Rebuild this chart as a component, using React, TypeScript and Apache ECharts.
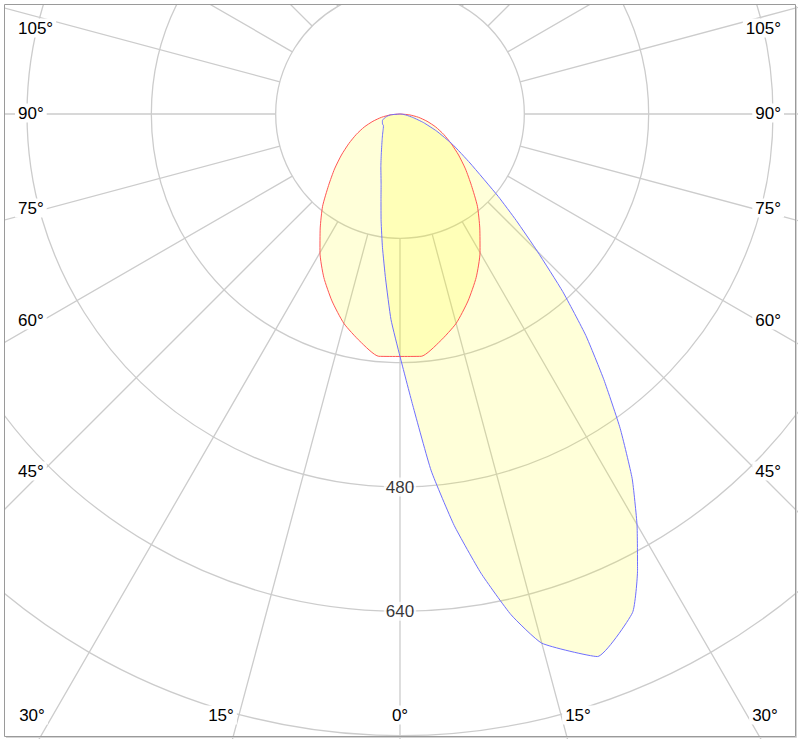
import React, { useEffect, useRef } from 'react';
import * as echarts from 'echarts';

// ---- data ----
const ringValues = [160, 320, 480, 640, 800, 960];
const radiusLabelValues = [480, 640];

// C0-C180 plane (red), angle in degrees (0 = nadir, + = right), intensity cd
const redAngles = [-90, -85, -80, -75, -70, -65, -60, -55, -50, -45, -40, -35, -30, -25, -20, -15, -10, -5, 0, 5, 10, 15, 20, 25, 30, 35, 40, 45, 50, 55, 60, 65, 70, 75, 80, 85, 90];
const redValues = [0, 12, 24, 36, 49, 62, 76, 92, 110, 130, 155, 179, 206, 232, 256, 279, 297, 313, 312, 313, 297, 279, 256, 232, 206, 179, 155, 130, 110, 92, 76, 62, 49, 36, 24, 12, 0];

// C90-C270 plane (blue)
const blueAngles = [-90, -85, -80, -75, -70, -65, -60, -55, -50, -45, -40, -35, -30, -25, -20, -15, -12.5, -10, -7.5, -5, -2.5, 0, 2.5, 5, 7.5, 10, 12.5, 15, 20, 25, 27.5, 30, 32.5, 35, 37.5, 40, 42.5, 45, 47.5, 50, 55, 60, 65, 70, 75, 80, 85, 90];
const blueValues = [0, 12, 17, 21, 24, 25, 26, 26, 28, 31, 35, 40, 47, 57, 72, 94, 113, 140, 173, 213, 265, 312, 375, 461, 534, 600, 660, 705, 743, 708, 662, 610, 556, 494, 431, 372, 310, 250, 203, 165, 110, 78, 52, 32, 17, 8, 3, 0];

const leftAngleLabels = ['105°', '90°', '75°', '60°', '45°'];
const bottomAngleLabels = ['30°', '15°', '0°', '15°', '30°'];

// ---- layout ----
const CX = 396;
const CY = 110;
const R_MAX = 960;
const R_OUT = 746;
const R_IN = (R_OUT * ringValues[0]) / R_MAX;
const FONT_FAMILY = 'Liberation Sans, Arial, sans-serif';
const FONT_SIZE = 17;
const GRID = '#cccccc';

const sideY = [24, 109, 204, 316, 467];
const bottomX = [28, 217, 396, 574, 761];

export default function App() {
  const ref = useRef<HTMLDivElement>(null);

  useEffect(() => {
    document.body.style.margin = '0';
    if (!ref.current) return;
    const chart = echarts.init(ref.current, undefined, { renderer: 'svg' });

    const textStyle = (t: string, align: string) => ({
      text: t, fontSize: FONT_SIZE, fontFamily: FONT_FAMILY, fill: '#000',
      align, verticalAlign: 'middle', backgroundColor: '#fff', padding: [1, 3],
    });
    const texts: any[] = [];
    leftAngleLabels.forEach((t, i) => {
      texts.push({ type: 'text', z: 100, x: 11, y: sideY[i], style: textStyle(t, 'left') });
      texts.push({ type: 'text', z: 100, x: 780, y: sideY[i], style: textStyle(t, 'right') });
    });
    bottomAngleLabels.forEach((t, i) => {
      texts.push({ type: 'text', z: 100, x: bottomX[i], y: 711, style: textStyle(t, 'center') });
    });

    const option: any = {
      animation: false,
      backgroundColor: '#fff',
      polar: [
        { center: [CX, CY], radius: [R_IN, R_OUT] },
        { center: [CX, CY], radius: [0, R_OUT] },
      ],
      angleAxis: [
        {
          polarIndex: 0, type: 'value', min: -180, max: 180, interval: 15,
          startAngle: 90, clockwise: false,
          axisLine: { show: false }, axisTick: { show: false }, axisLabel: { show: false },
          splitLine: { show: true, lineStyle: { color: GRID, width: 1.3 } },
        },
        {
          polarIndex: 1, type: 'value', min: -180, max: 180, interval: 15,
          startAngle: 90, clockwise: false, show: false,
        },
      ],
      radiusAxis: [
        {
          polarIndex: 0, type: 'value', min: ringValues[0], max: R_MAX, interval: 160,
          axisLine: { show: false }, axisTick: { show: false }, axisLabel: { show: false },
          splitLine: { show: true, lineStyle: { color: GRID, width: 1.3 } },
        },
        { polarIndex: 1, type: 'value', min: 0, max: R_MAX, show: false },
      ],
      series: [
        {
          type: 'line', coordinateSystem: 'polar', polarIndex: 1,
          data: redAngles.map((a, i) => [redValues[i], a]),
          symbol: 'none', smooth: 0.2, z: 3,
          lineStyle: { color: '#ff5555', width: 1 },
          areaStyle: { color: 'rgba(255,255,0,0.15)', opacity: 1 },
        },
        {
          type: 'line', coordinateSystem: 'polar', polarIndex: 1,
          data: blueAngles.map((a, i) => [blueValues[i], a]),
          symbol: 'none', smooth: 0.15, z: 3,
          lineStyle: { color: '#6f6fff', width: 1 },
          areaStyle: { color: 'rgba(255,255,0,0.15)', opacity: 1 },
        },
        {
          type: 'scatter', coordinateSystem: 'polar', polarIndex: 1, silent: true, z: 5,
          data: radiusLabelValues.map((v) => [v, 0]),
          symbolSize: 1, itemStyle: { color: 'rgba(0,0,0,0)' },
          label: {
            show: true, position: 'inside',
            formatter: (p: any) => String(p.value[0]),
            color: '#000', fontSize: FONT_SIZE, fontFamily: FONT_FAMILY,
            backgroundColor: '#fff', padding: [1, 2],
          },
        },
      ],
      graphic: [
        {
          type: 'rect', z: 101, silent: true,
          shape: { x: 0.5, y: 0.5, width: 791, height: 732 },
          style: { fill: 'none', stroke: '#9a9a9a', lineWidth: 1 },
        },
        {
          type: 'polyline', z: 101, silent: true,
          shape: { points: [[792.5, 2], [792.5, 733.5], [2, 733.5]] },
          style: { fill: 'none', stroke: '#d4d4d4', lineWidth: 1 },
        },
        ...texts,
      ],
    };
    chart.setOption(option);
    return () => chart.dispose();
  }, []);

  return (
    <div style={{ position: 'relative', width: 800, height: 741, background: '#fff' }}>
      <div
        ref={ref}
        style={{ position: 'absolute', left: 4, top: 4, width: 794, height: 735, overflow: 'hidden' }}
      />
    </div>
  );
}
